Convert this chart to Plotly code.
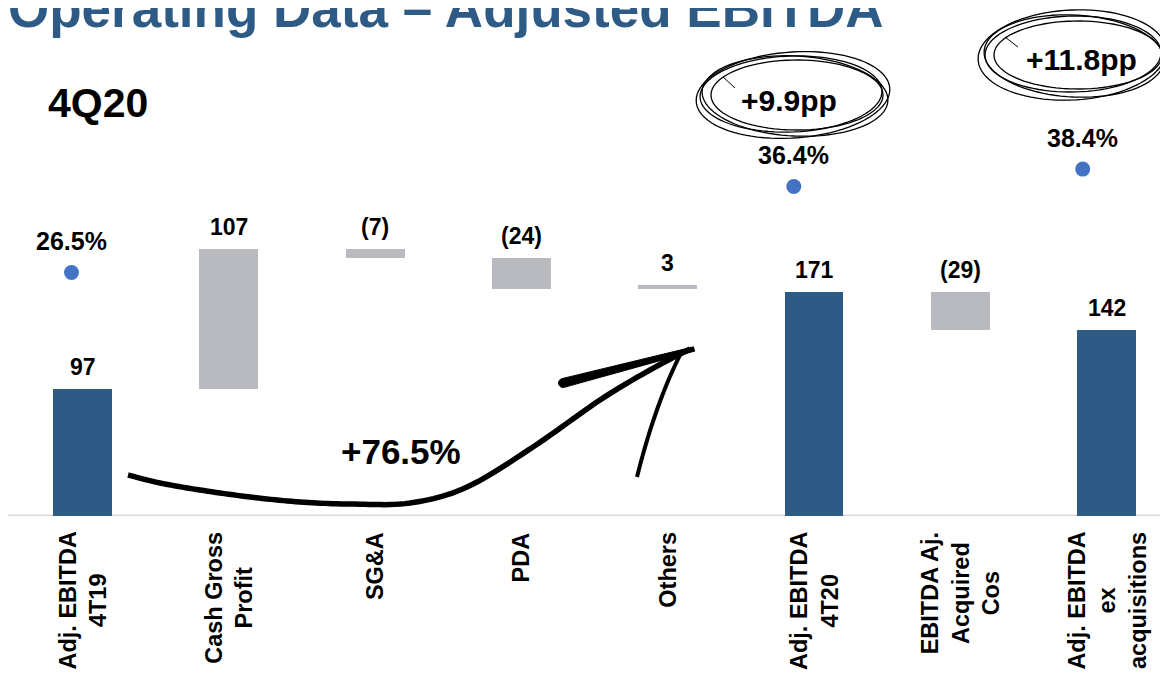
import numpy as np
import plotly.graph_objects as go

# ---------------- data ----------------
categories = ["Adj. EBITDA<br>4T19", "Cash Gross<br>Profit", "SG&A", "PDA", "Others",
              "Adj. EBITDA<br>4T20", "EBITDA Aj.<br>Acquired<br>Cos",
              "Adj. EBITDA<br>ex<br>acquisitions"]
values = [97, 107, -7, -24, 3, 171, -29, 142]
measures = ["total", "relative", "relative", "relative", "relative", "total", "relative", "total"]
value_labels = ["97", "107", "(7)", "(24)", "3", "171", "(29)", "142"]
margin_idx = [0, 5, 7]
margin_vals = [26.5, 36.4, 38.4]
margin_labels = ["26.5%", "36.4%", "38.4%"]
delta_labels = ["+9.9pp", "+11.8pp"]
growth_label = "+76.5%"
title_text = "Operating Data – Adjusted EBITDA"
period_text = "4Q20"

# ---------------- layout constants ----------------
W, H = 1168, 673
OFF = 8  # page body margin offset of the plot div
# desired plot area in page pixels: left 10, right 1160, top 40, bottom 516
PL, PR, PT, PB = 10, 1160, 40, 516
ML, MT = PL - OFF, PT - OFF
MR, MB = W - (PR - OFF), H - (PB - OFF)
PW, PH = PR - PL, PB - PT
BLUE = "#2d5b85"
GREY = "#b9babf"
DOT = "#4472c4"
FONT = "Liberation Sans, Arial, sans-serif"


def fx(p):
    return (p - PL) / PW


def fy(p):
    return (PB - p) / PH


# waterfall geometry from values
bases, heights, colors = [], [], []
running = 0
for v, m in zip(values, measures):
    if m == "total":
        bases.append(0)
        heights.append(v)
        colors.append(BLUE)
        running = v
    else:
        bases.append(running if v >= 0 else running + v)
        heights.append(abs(v))
        colors.append(GREY)
        running += v
tops = [b + h for b, h in zip(bases, heights)]

xs = list(range(len(categories)))

fig = go.Figure()
fig.add_trace(go.Bar(x=xs, y=heights, base=bases, width=0.403,
                     marker=dict(color=colors, line=dict(width=0)),
                     hoverinfo="skip", showlegend=False))
fig.add_trace(go.Scatter(x=margin_idx, y=margin_vals, mode="markers",
                         marker=dict(color=DOT, size=15),
                         xaxis="x2", yaxis="y2", showlegend=False, hoverinfo="skip"))

ann = []
for i, (t, lab) in enumerate(zip(tops, value_labels)):
    ann.append(dict(x=i, y=t, xref="x", yref="y", text="<b>%s</b>" % lab,
                    showarrow=False, yanchor="middle", yshift=22,
                    font=dict(family=FONT, size=23, color="black")))
for i, v, lab in zip(margin_idx, margin_vals, margin_labels):
    ann.append(dict(x=i, y=v, xref="x2", yref="y2", text="<b>%s</b>" % lab,
                    showarrow=False, yanchor="middle", yshift=31,
                    font=dict(family=FONT, size=25, color="black")))
for i, c in enumerate(categories):
    ann.append(dict(x=i, y=0, xref="x", yref="paper", text="<b>%s</b>" % c,
                    showarrow=False, yanchor="top", xanchor="center", yshift=-14,
                    textangle=-90, align="center",
                    font=dict(family=FONT, size=23.5, color="black")))
ann.append(dict(x=fx(6), y=fy(8), xref="paper", yref="paper", text="<b>%s</b>" % title_text,
                showarrow=False, xanchor="left", yanchor="middle",
                font=dict(family=FONT, size=53, color=BLUE)))
ann.append(dict(x=fx(46), y=fy(103), xref="paper", yref="paper", text="<b>%s</b>" % period_text,
                showarrow=False, xanchor="left", yanchor="middle",
                font=dict(family=FONT, size=41, color="black")))
ann.append(dict(x=fx(401), y=fy(451), xref="paper", yref="paper", text="<b>%s</b>" % growth_label,
                showarrow=False, xanchor="center", yanchor="middle",
                font=dict(family=FONT, size=35, color="black")))
ann.append(dict(x=fx(789), y=fy(100), xref="paper", yref="paper", text="<b>%s</b>" % delta_labels[0],
                showarrow=False, xanchor="center", yanchor="middle",
                font=dict(family=FONT, size=30, color="black")))
ann.append(dict(x=fx(1081), y=fy(60), xref="paper", yref="paper", text="<b>%s</b>" % delta_labels[1],
                showarrow=False, xanchor="center", yanchor="middle",
                font=dict(family=FONT, size=30, color="black")))

shapes = []
shapes.append(dict(type="line", xref="paper", yref="y", x0=fx(6), x1=1.02, y0=0, y1=0,
                   line=dict(color="#d9d9d9", width=3), layer="below"))


def to_path(pts, close=False):
    s = "M " + " L ".join("%.5f,%.5f" % (fx(x), fy(y)) for x, y in pts)
    return s + (" Z" if close else "")


def ellipse(cx, cy, rx, ry, ang, n=90):
    t = np.linspace(0, 2 * np.pi, n)
    a = np.deg2rad(ang)
    x = rx * np.cos(t)
    y = ry * np.sin(t)
    X = cx + x * np.cos(a) - y * np.sin(a)
    Y = cy + x * np.sin(a) + y * np.cos(a)
    return list(zip(X, Y))


for (cx, cy, rx, ry, ang) in [(793, 95, 97, 43, -4), (795, 96, 93, 40, 3), (797, 95, 86, 35, 0), (791, 94, 91, 38, -2),
                              (1072, 55, 94, 45, -3), (1074, 56, 90, 41, 3), (1078, 55, 84, 34, 0), (1073, 54, 88, 38, -1)]:
    shapes.append(dict(type="path", xref="paper", yref="paper", path=to_path(ellipse(cx, cy, rx, ry, ang), True),
                       line=dict(color="black", width=1.3)))
for seg in [[(723, 77), (735, 88)], [(1005, 37), (1018, 47)]]:
    shapes.append(dict(type="path", xref="paper", yref="paper", path=to_path(seg),
                       line=dict(color="black", width=1)))


def catmull(pts, steps=12):
    pts = np.array(pts, dtype=float)
    P = np.vstack([pts[0], pts, pts[-1]])
    out = []
    for i in range(1, len(P) - 2):
        p0, p1, p2, p3 = P[i - 1], P[i], P[i + 1], P[i + 2]
        for t in np.linspace(0, 1, steps, endpoint=False):
            t2, t3 = t * t, t * t * t
            out.append(0.5 * ((2 * p1) + (-p0 + p2) * t + (2 * p0 - 5 * p1 + 4 * p2 - p3) * t2
                              + (-p0 + 3 * p1 - 3 * p2 + p3) * t3))
    out.append(P[-2])
    return [tuple(p) for p in out]


curve = catmull([(128, 475), (160, 483), (200, 490), (250, 497), (300, 502), (350, 504), (410, 503),
                 (467, 487), (533, 447), (600, 400), (650, 370), (690, 349)])
shapes.append(dict(type="path", xref="paper", yref="paper", path=to_path(curve),
                   line=dict(color="black", width=5.5)))

tail = np.array([563.0, 383.0]); tip = np.array([694.0, 349.0])
u = (tip - tail) / np.linalg.norm(tip - tail); nrm = np.array([-u[1], u[0]])
poly = [tuple(tail + nrm * 4.5), tuple(tip + nrm * 2.2), tuple(tip - nrm * 2.2), tuple(tail - nrm * 4.5)]
for a in np.linspace(0, np.pi, 8):
    poly.append(tuple(tail - nrm * 4.5 * np.cos(a) - u * 4.5 * np.sin(a)))
shapes.append(dict(type="path", xref="paper", yref="paper", path=to_path(poly, True),
                   fillcolor="black", line=dict(color="black", width=1)))
arm = []
P0, C, P2 = np.array([680.0, 355.0]), np.array([655.0, 405.0]), np.array([637.0, 477.0])
for t in np.linspace(0, 1, 20):
    arm.append(tuple((1 - t) ** 2 * P0 + 2 * (1 - t) * t * C + t * t * P2))
shapes.append(dict(type="path", xref="paper", yref="paper", path=to_path(arm),
                   line=dict(color="black", width=4)))

fig.update_layout(
    width=W, height=H, margin=dict(l=ML, r=MR, t=MT, b=MB),
    paper_bgcolor="white", plot_bgcolor="white",
    xaxis=dict(range=[-0.4956, 7.365], visible=False, fixedrange=True),
    xaxis2=dict(range=[-0.4257, 7.535], visible=False, overlaying="x"),
    yaxis=dict(range=[0, PH / 1.31], visible=False),
    yaxis2=dict(range=[-1.548, 53.27], visible=False, overlaying="y"),
    annotations=ann, shapes=shapes, showlegend=False, bargap=0,
)
fig.write_html("out.html")
